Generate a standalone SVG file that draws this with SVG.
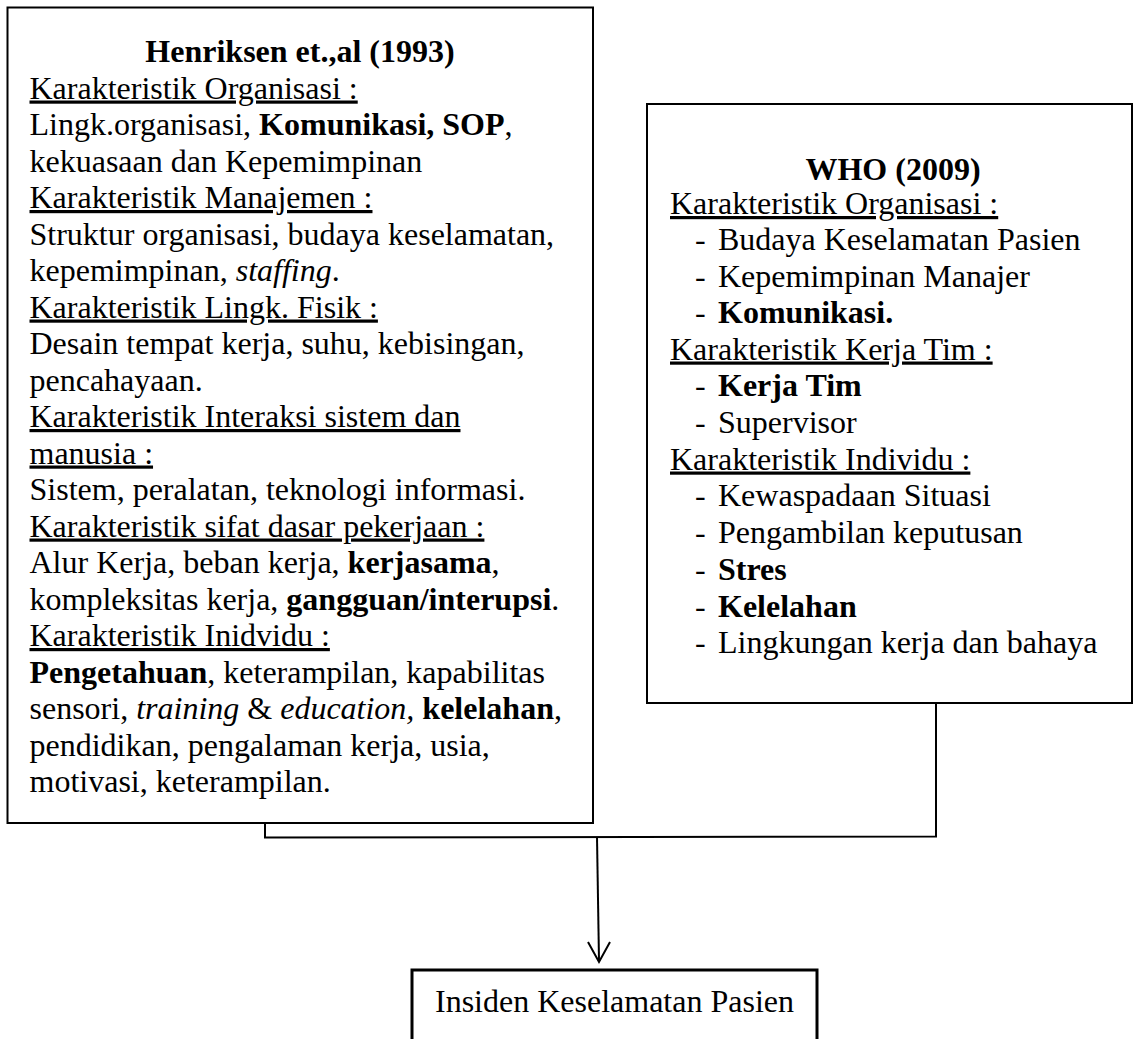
<svg xmlns="http://www.w3.org/2000/svg" width="1134" height="1039" viewBox="0 0 1134 1039">
<style>
.box{fill:#fff;stroke:#000;stroke-width:2}
.thick{fill:#fff;stroke:#000;stroke-width:3}
text{font-family:"Times New Roman","Liberation Serif",Tinos,serif;font-size:32px;fill:#000}
.u{text-decoration:underline}
.b{font-weight:bold}
.i{font-style:italic}
.con{fill:none;stroke:#000;stroke-width:2}
</style>
<rect width="1134" height="1039" fill="#fff"/>
<g id="connectors">
<polyline class="con" points="265,823 265,837.5 936,836.5 936,699"/>
<line class="con" x1="597" y1="837" x2="599" y2="961"/>
<polyline class="con" points="588,942 599,962 610,942"/>
</g>
<g id="henriksen">
<rect class="box" x="7.5" y="7.5" width="585.5" height="815.5"/>
<text class="b" x="300" y="62" text-anchor="middle">Henriksen et.,al (1993)</text>
<text class="u" x="29.5" y="98.5">Karakteristik Organisasi :</text>
<text x="29.5" y="135">Lingk.organisasi, <tspan class="b">Komunikasi, SOP</tspan>,</text>
<text x="29.5" y="171.5">kekuasaan dan Kepemimpinan</text>
<text class="u" x="29.5" y="208">Karakteristik Manajemen :</text>
<text x="29.5" y="244.5">Struktur organisasi, budaya keselamatan,</text>
<text x="29.5" y="281">kepemimpinan, <tspan class="i">staffing</tspan>.</text>
<text class="u" x="29.5" y="317.5">Karakteristik Lingk. Fisik :</text>
<text x="29.5" y="354">Desain tempat kerja, suhu, kebisingan,</text>
<text x="29.5" y="390.5">pencahayaan.</text>
<text class="u" x="29.5" y="427">Karakteristik Interaksi sistem dan</text>
<text class="u" x="29.5" y="463.5">manusia :</text>
<text x="29.5" y="500">Sistem, peralatan, teknologi informasi.</text>
<text class="u" x="29.5" y="536.5">Karakteristik sifat dasar pekerjaan :</text>
<text x="29.5" y="573">Alur Kerja, beban kerja, <tspan class="b">kerjasama</tspan>,</text>
<text x="29.5" y="609.5">kompleksitas kerja, <tspan class="b">gangguan/interupsi</tspan>.</text>
<text class="u" x="29.5" y="646">Karakteristik Inidvidu :</text>
<text x="29.5" y="682.5"><tspan class="b">Pengetahuan</tspan>, keterampilan, kapabilitas</text>
<text x="29.5" y="719">sensori, <tspan class="i">training</tspan> &amp; <tspan class="i">education,</tspan> <tspan class="b">kelelahan</tspan>,</text>
<text x="29.5" y="755.5">pendidikan, pengalaman kerja, usia,</text>
<text x="29.5" y="792">motivasi, keterampilan.</text>
</g>
<g id="who">
<rect class="box" x="647" y="104" width="485" height="599"/>
<text class="b" x="893" y="180" text-anchor="middle">WHO (2009)</text>
<text class="u" x="670" y="214">Karakteristik Organisasi :</text>
<text x="695" y="250">-</text><text x="718" y="250">Budaya Keselamatan Pasien</text>
<text x="695" y="286.5">-</text><text x="718" y="286.5">Kepemimpinan Manajer</text>
<text x="695" y="323">-</text><text class="b" x="718" y="323">Komunikasi.</text>
<text class="u" x="670" y="359.5">Karakteristik Kerja Tim :</text>
<text x="695" y="396">-</text><text class="b" x="718" y="396">Kerja Tim</text>
<text x="695" y="432.5">-</text><text x="718" y="432.5">Supervisor</text>
<text class="u" x="670" y="469.5">Karakteristik Individu :</text>
<text x="695" y="506">-</text><text x="718" y="506">Kewaspadaan Situasi</text>
<text x="695" y="543">-</text><text x="718" y="543">Pengambilan keputusan</text>
<text x="695" y="580">-</text><text class="b" x="718" y="580">Stres</text>
<text x="695" y="616.5">-</text><text class="b" x="718" y="616.5">Kelelahan</text>
<text x="695" y="653">-</text><text x="718" y="653">Lingkungan kerja dan bahaya</text>
</g>
<g id="insiden">
<rect class="thick" x="412" y="970" width="405" height="90"/>
<text x="614.5" y="1012" text-anchor="middle">Insiden Keselamatan Pasien</text>
</g>
</svg>
